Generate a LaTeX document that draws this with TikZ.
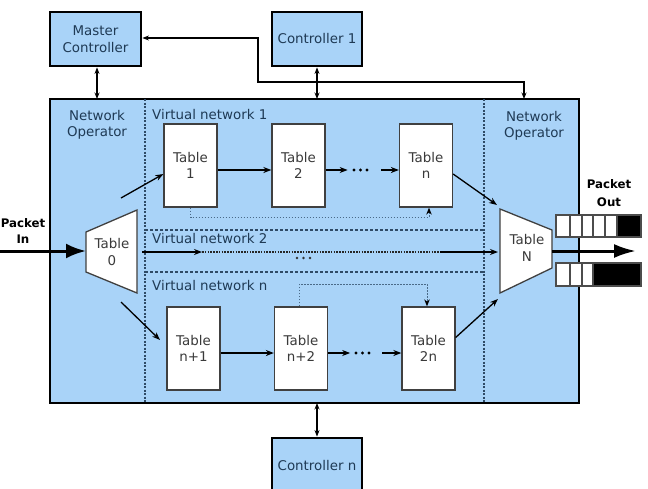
\documentclass[tikz,border=0pt]{standalone}
\usepackage{fontspec}
\setmainfont{DejaVu Sans}
\usetikzlibrary{arrows.meta}
\definecolor{fillblue}{HTML}{A9D3F8}
\definecolor{txtblue}{HTML}{1F3A55}
\definecolor{tabtxt}{HTML}{3A3A3A}
\definecolor{divline}{HTML}{2E4A66}
\definecolor{dotline}{HTML}{4A6A88}
\begin{document}
\begin{tikzpicture}[x=1pt,y=-1pt,font=\fontsize{13.4}{16.5}\selectfont,
  ctrl/.style={draw=black,line width=2.8pt,fill=fillblue,text=txtblue,align=center,inner sep=0pt,minimum width=90pt,minimum height=54pt},
  tbl/.style={draw=black!75,line width=1.3pt,fill=white,text=tabtxt,align=center,inner sep=0pt,minimum width=53pt,minimum height=83pt},
  arr/.style={-{Stealth[length=8pt,width=6pt]},line width=1.3pt},
  darr/.style={{Stealth[length=6.5pt,width=5pt]}-{Stealth[length=6.5pt,width=5pt]},line width=1.3pt},
  divider/.style={draw=divline,line width=1.1pt,dash pattern=on 2pt off 1.5pt},
  vnsep/.style={draw=divline,line width=1.2pt,dash pattern=on 3pt off 2pt},
  fineconn/.style={draw=dotline,line width=1pt,dash pattern=on 1.8pt off 1.2pt,-{Stealth[length=7pt,width=5.5pt,color=black]}},
  lbl/.style={text=txtblue,align=center,inner sep=0pt},
  bigarr/.style={-{Latex[length=20pt,width=15pt]},line width=3pt},
  cell/.style={draw=black!70,line width=1.4pt,fill=white},
  cellblk/.style={draw=black!70,line width=1.4pt,fill=black}]
\useasboundingbox (0,0) rectangle (648,488);
\clip (0,0) rectangle (648,488);
% main box
\node[draw=black,line width=2.7pt,fill=fillblue,minimum width=529pt,minimum height=304pt,inner sep=0pt] (main) at (314.5,251) {};
% dividers
\draw[divider] (145,99) -- (145,403);
\draw[divider] (484,99) -- (484,403);
\draw[vnsep] (145,230) -- (484,230);
\draw[vnsep] (145,272) -- (484,272);
% controllers
\node[ctrl,minimum width=91pt] (mc) at (95.5,39) {Master\\Controller};
\node[ctrl] (c1) at (317,39) {Controller 1};
\node[ctrl] (cn) at (317,465) {Controller n};
% labels
\node[lbl] (nol) at (97,125) {Network\\Operator};
\node[lbl] (nor) at (534,126) {Network\\Operator};
\node[lbl,anchor=west] (vn1) at (152,114) {Virtual network 1};
\node[lbl,anchor=west] (vn2) at (152,238) {Virtual network 2};
\node[lbl,anchor=west] (vnn) at (152,285) {Virtual network n};
% controller arrows
\coordinate (mcb) at (97,99);
\coordinate (c1b) at (317,99);
\coordinate (cnb) at (317,403);
\coordinate (optop) at (524,99);
\coordinate (bend) at (258,38);
\draw[darr] (mc.south -| mcb) -- (mcb);
\draw[darr] (c1.south) -- (c1b);
\draw[darr] (cn.north) -- (cnb);
\draw[darr] (mc.east |- bend) -- (bend) |- (524,82) -- (optop);
% tables
\node[tbl] (t1) at (190.5,165.5) {Table\\1};
\node[tbl] (t2) at (298.5,165.5) {Table\\2};
\node[tbl] (tn) at (426,165.5) {Table\\n};
\node[tbl] (tn1) at (193.5,348.5) {Table\\n+1};
\node[tbl] (tn2) at (301,348.5) {Table\\n+2};
\node[tbl] (t2n) at (428.5,348.5) {Table\\2n};
% table 0 trapezoid
\coordinate (t0a) at (86,232);
\coordinate (t0b) at (137,210);
\coordinate (t0c) at (137,293);
\coordinate (t0d) at (86,272);
\draw[draw=black!75,line width=1.3pt,fill=white] (t0a) -- (t0b) -- (t0c) -- (t0d) -- cycle;
\node[text=tabtxt,align=center,inner sep=0pt] (t0) at (112,252) {Table\\0};
% table N trapezoid
\coordinate (tNa) at (500,209);
\coordinate (tNb) at (552,230);
\coordinate (tNc) at (552,268);
\coordinate (tNd) at (500,293);
\draw[draw=black!75,line width=1.3pt,fill=white] (tNa) -- (tNb) -- (tNc) -- (tNd) -- cycle;
\node[text=tabtxt,align=center,inner sep=0pt] (tN) at (527,248) {Table\\N};
% packet in/out
\coordinate (pin) at (0,251);
\coordinate (t0w) at (86,251);
\draw[bigarr] (pin) -- (t0w);
\node[font=\fontsize{11.8}{16}\selectfont\bfseries,align=center,inner sep=0pt] (pinl) at (23,231) {Packet\\In};
\coordinate (tNe) at (552,251);
\coordinate (pout) at (636,251);
\draw[bigarr,-{Latex[length=22pt,width=14pt]}] (tNe) -- (pout);
\node[font=\fontsize{11.8}{18}\selectfont\bfseries,align=center,inner sep=0pt] (poutl) at (609,193) {Packet\\Out};
% queues
\foreach \a/\b in {556/570,570/582,582/593,593/605,605/617}
  \draw[cell] (\a,215) rectangle (\b,237);
\draw[cellblk] (617,215) rectangle (641,237);
\foreach \a/\b in {556/570,570/582,582/593}
  \draw[cell] (\a,263) rectangle (\b,286);
\draw[cellblk] (593,263) rectangle (641,286);
% VN1 connectors
\coordinate (a1s) at (121,198);
\draw[arr] (a1s) -- ([yshift=-8.5pt]t1.west);
\draw[arr] ([yshift=-4.5pt]t1.east) -- ([yshift=-4.5pt]t2.east -| t2.west);
\coordinate (d1s) at (381,170);
\draw[arr] ([yshift=-4.5pt]t2.east) -- ++(22,0);
\foreach \x in {354,360.5,367} \fill[black] (\x,170) circle (1.6);
\draw[arr] (d1s) -- ([yshift=-4.5pt]tn.west);
\draw[fineconn] (t1.south) -- ++(0,10) -| ([xshift=3pt]tn.south);
\coordinate (aNa) at (497,205);
\draw[arr] ([yshift=-8.5pt]tn.east) -- (aNa);
% VN2
\coordinate (v2a) at (142,252);
\coordinate (v2b) at (202,252);
\coordinate (v2c) at (440,252);
\coordinate (v2d) at (498,252);
\draw[arr] (v2a) -- (v2b);
\draw[line width=1.2pt,dash pattern=on 1.5pt off 1.3pt,draw=black!85] (v2b) -- (v2c);
\draw[arr] (v2c) -- (v2d);
\foreach \x in {297,303.5,310} \fill[black!80] (\x,258) circle (1.4);
% VNn connectors
\coordinate (ans) at (121,302);
\coordinate (ane) at (160,340);
\draw[arr] (ans) -- (ane);
\draw[arr] ([yshift=-4.5pt]tn1.east) -- ([yshift=-4.5pt]tn2.east -| tn2.west);
\coordinate (d2s) at (382,353);
\draw[arr] ([yshift=-4.5pt]tn2.east) -- ++(22,0);
\foreach \x in {356,362.5,369} \fill[black] (\x,353) circle (1.6);
\draw[arr] (d2s) -- ([yshift=-4.5pt]t2n.west);
\draw[fineconn] ([xshift=-2pt]tn2.north) -- ++(0,-22) -| ([xshift=-1.5pt]t2n.north);
\coordinate (aNb) at (498,299);
\draw[arr] ([yshift=11pt]t2n.east) -- (aNb);
\end{tikzpicture}
\end{document}
